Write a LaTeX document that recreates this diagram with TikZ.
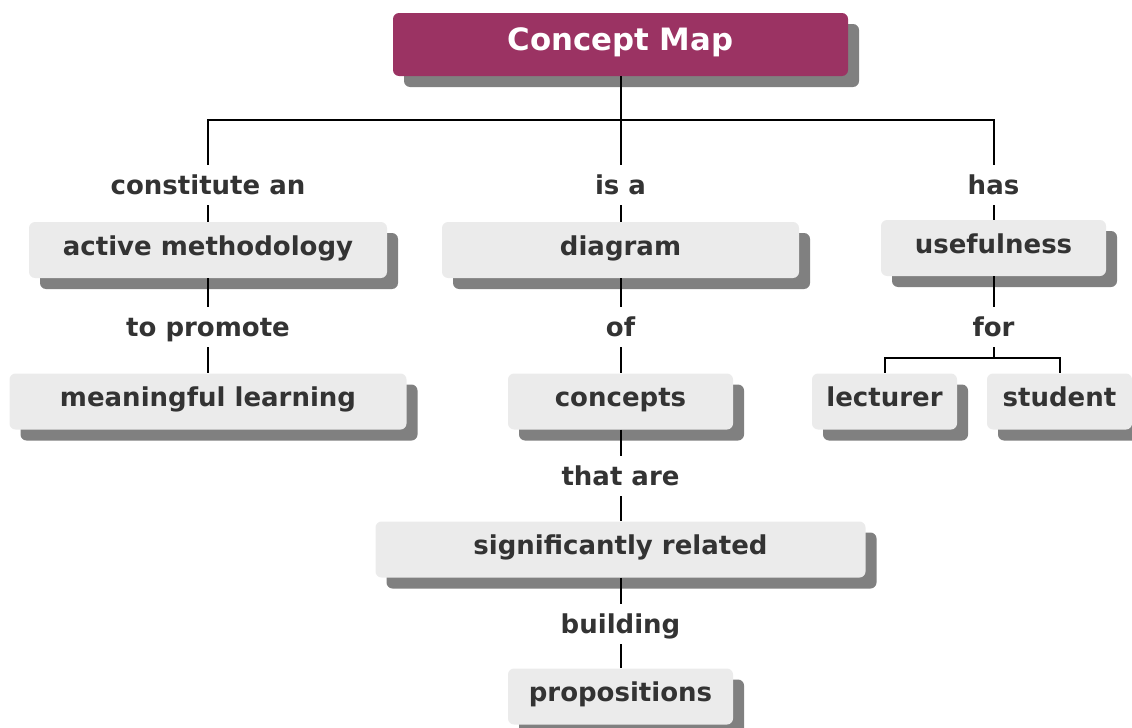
\documentclass[tikz,border=0pt]{standalone}
\usepackage{fontspec}
\setmainfont{DejaVu Sans}
\usetikzlibrary{shadows}

\definecolor{titlepurple}{RGB}{155,51,99}
\definecolor{boxgray}{RGB}{235,235,235}
\definecolor{shadowgray}{RGB}{128,128,128}
\definecolor{textgray}{RGB}{51,51,51}

\tikzset{
  concept/.style={rectangle, rounded corners=3pt, fill=boxgray, text=textgray,
    font=\bfseries\fontsize{13pt}{15pt}\selectfont, inner xsep=0pt, inner ysep=0pt,
    text height=16.5pt, text depth=11.5pt,
    drop shadow={shadow xshift=5.5pt, shadow yshift=-5.5pt, fill=shadowgray, opacity=1}},
  maintitle/.style={concept, fill=titlepurple, text=white,
    font=\bfseries\fontsize{15.4pt}{18pt}\selectfont,
    text height=18.5pt, text depth=13pt},
  linkword/.style={inner sep=0pt, text=textgray,
    font=\bfseries\fontsize{13pt}{15pt}\selectfont,
    text height=14.5pt, text depth=5.5pt},
  link/.style={line width=1pt, black},
}

\begin{document}
\begin{tikzpicture}[x=0.5pt, y=-0.5pt]
    % fix the page to the size of the picture
    \useasboundingbox (0,0) rectangle (1132,728);

    % title of the map
    \node [maintitle, minimum width=227.5pt] (title) at (620.5,44.5) {Concept Map};
    \coordinate (topjoint) at (620.5,120);

    % left branch
    \node [linkword] (constitute) at (208,185) {constitute an};
    \node [concept, minimum width=179pt] (active) at (208,250) {active methodology};
    \node [linkword] (promote) at (208,327) {to promote};
    \node [concept, minimum width=198.5pt] (meaningful) at (208,401.5) {meaningful learning};

    % middle branch
    \node [linkword] (isa) at (620.5,185) {is a};
    \node [concept, minimum width=178.5pt] (diagram) at (620.5,250) {diagram};
    \node [linkword] (of) at (620.5,327) {of};
    \node [concept, minimum width=112.5pt] (concepts) at (620.5,401.5) {concepts};
    \node [linkword] (thatare) at (620.5,476) {that are};
    \node [concept, minimum width=245pt] (related) at (620.5,549.5) {significantly related};
    \node [linkword] (building) at (620.5,624) {building};
    \node [concept, minimum width=112.5pt] (propositions) at (620.5,696.5) {propositions};

    % right branch
    \node [linkword] (has) at (993.5,185) {has};
    \node [concept, minimum width=112.5pt] (usefulness) at (993.5,248) {usefulness};
    \node [linkword] (for) at (993.5,327) {for};
    \coordinate (forjoint) at (993.5,358);
    \node [concept, minimum width=72.5pt] (lecturer) at (884.5,401.5) {lecturer};
    \node [concept, minimum width=72.5pt] (student) at (1059.5,401.5) {student};

    % connectors
    \draw [link] (title) -- (topjoint);
    \draw [link] (topjoint) -| (constitute);
    \draw [link] (topjoint) -| (has);
    \draw [link] (topjoint) -- (isa);
    \draw [link] (constitute) -- (active) -- (promote) -- (meaningful);
    \draw [link] (isa) -- (diagram) -- (of) -- (concepts) -- (thatare)
      -- (related) -- (building) -- (propositions);
    \draw [link] (has) -- (usefulness) -- (for) -- (forjoint);
    \draw [link] (forjoint) -| (lecturer);
    \draw [link] (forjoint) -| (student);
\end{tikzpicture}
\end{document}
